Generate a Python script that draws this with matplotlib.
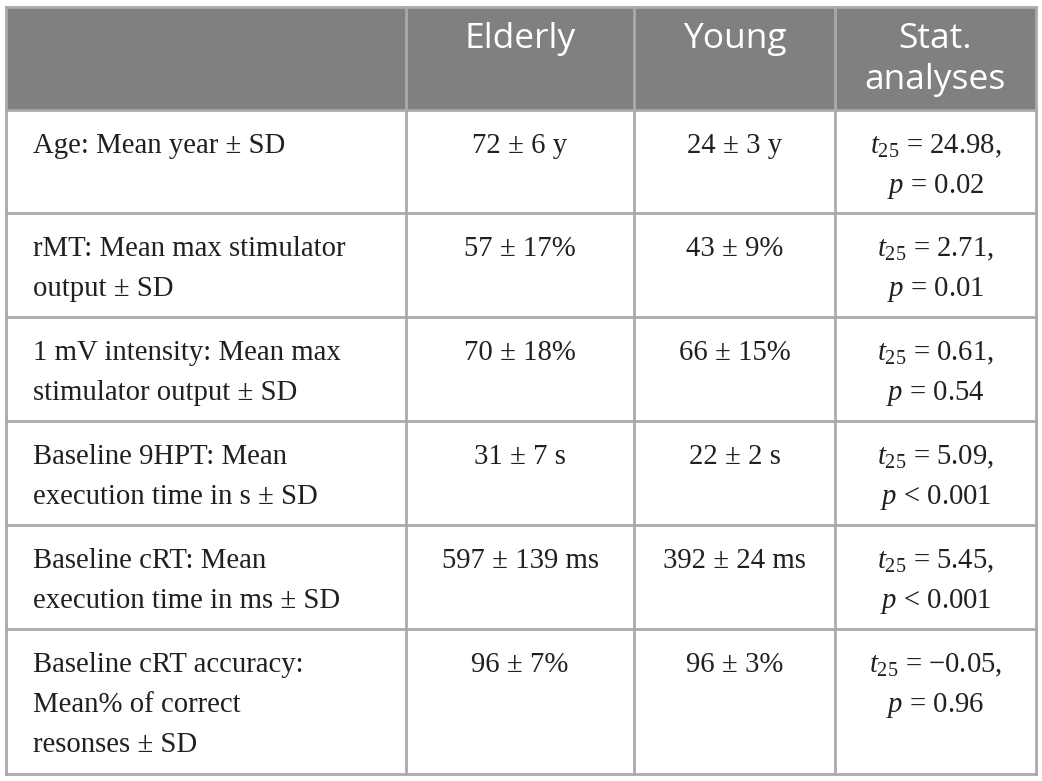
import matplotlib
matplotlib.use("Agg")
import matplotlib.pyplot as plt
from matplotlib.patches import Rectangle

plt.rcParams['mathtext.fontset'] = 'custom'
plt.rcParams['mathtext.rm'] = 'Liberation Serif'
plt.rcParams['mathtext.it'] = 'Liberation Serif:italic'

# ---- data ----
headers = ["", "Elderly", "Young", "Stat.\nanalyses"]
measures = [
    "Age: Mean year \u00b1 SD",
    "rMT: Mean max stimulator\noutput \u00b1 SD",
    "1 mV intensity: Mean max\nstimulator output \u00b1 SD",
    "Baseline 9HPT: Mean\nexecution time in s \u00b1 SD",
    "Baseline cRT: Mean\nexecution time in ms \u00b1 SD",
    "Baseline cRT accuracy:\nMean% of correct\nresonses \u00b1 SD",
]
elderly = ["72 \u00b1 6 y", "57 \u00b1 17%", "70 \u00b1 18%", "31 \u00b1 7 s",
           "597 \u00b1 139 ms", "96 \u00b1 7%"]
young = ["24 \u00b1 3 y", "43 \u00b1 9%", "66 \u00b1 15%", "22 \u00b1 2 s",
         "392 \u00b1 24 ms", "96 \u00b1 3%"]
t_values = ["24.98", "2.71", "0.61", "5.09", "5.45", "\u22120.05"]
p_values = ["= 0.02", "= 0.01", "= 0.54", "< 0.001", "< 0.001", "= 0.96"]

# ---- layout (pixels) ----
W, H = 1042, 781
col_edges = [6, 406, 634, 835, 1036]
row_edges = [7, 110, 213, 317, 421, 525, 629, 774]
header_bg = "#808080"
line_col = "#aaaaaa"
body_fs = 20.7
head_fs = 25.5
line_h = 40
serif = "Liberation Serif"
sans = "Open Sans"
txt_col = "#231f20"

fig = plt.figure(figsize=(W / 100, H / 100), dpi=100)
ax = fig.add_axes([0, 0, 1, 1])
ax.set_xlim(0, W)
ax.set_ylim(H, 0)
ax.axis("off")

# header background
ax.add_patch(Rectangle((col_edges[0], row_edges[0]), col_edges[-1] - col_edges[0],
                       row_edges[1] - row_edges[0], facecolor=header_bg, edgecolor="none"))

# grid lines
for x in col_edges:
    ax.plot([x, x], [row_edges[0], row_edges[-1]], color=line_col, lw=2, solid_capstyle="projecting")
for y in row_edges:
    ax.plot([col_edges[0], col_edges[-1]], [y, y], color=line_col, lw=2, solid_capstyle="projecting")

# header texts
for j, h in enumerate(headers):
    if not h:
        continue
    cx = (col_edges[j] + col_edges[j + 1]) / 2
    for k, ln in enumerate(h.split("\n")):
        ax.text(cx, row_edges[0] + 41 + k * 41, ln, ha="center", va="baseline",
                color="white", fontsize=head_fs, family=sans)

# body
c2 = (col_edges[1] + col_edges[2]) / 2
c3 = (col_edges[2] + col_edges[3]) / 2
c4 = (col_edges[3] + col_edges[4]) / 2
for i in range(len(measures)):
    top = row_edges[i + 1]
    base = top + 43
    for k, ln in enumerate(measures[i].split("\n")):
        ax.text(col_edges[0] + 27, base + k * line_h, ln, ha="left", va="baseline",
                fontsize=body_fs, family=serif, color=txt_col)
    ax.text(c2, base, elderly[i], ha="center", va="baseline", fontsize=body_fs,
            family=serif, color=txt_col)
    ax.text(c3, base, young[i], ha="center", va="baseline", fontsize=body_fs,
            family=serif, color=txt_col)
    ax.text(c4, base, "$t_{25}$ = " + t_values[i] + ",", ha="center", va="baseline",
            fontsize=body_fs, family=serif, color=txt_col)
    ax.text(c4, base + line_h, "$p$ " + p_values[i], ha="center", va="baseline",
            fontsize=body_fs, family=serif, color=txt_col)

fig.savefig("out.png", dpi=100, facecolor="white")
